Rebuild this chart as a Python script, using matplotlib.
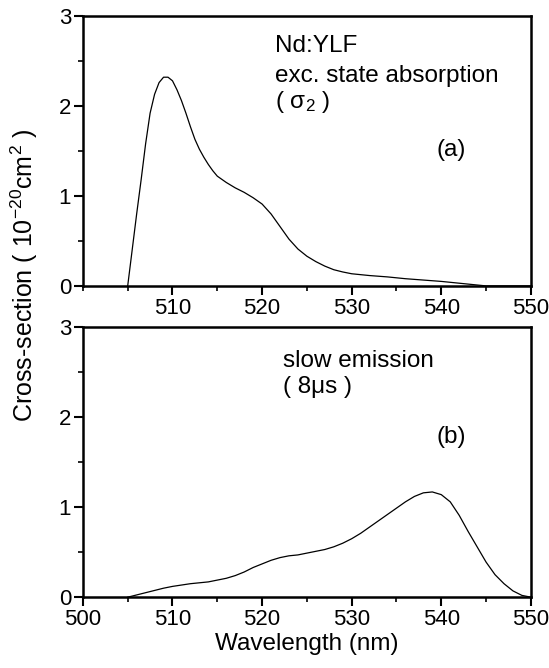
import matplotlib
matplotlib.use("Agg")
import matplotlib.pyplot as plt
from matplotlib.ticker import MultipleLocator

plt.rcParams['font.family'] = ['Liberation Sans', 'DejaVu Sans']
plt.rcParams['mathtext.fontset'] = 'custom'
plt.rcParams['mathtext.rm'] = 'Liberation Sans'
plt.rcParams['mathtext.it'] = 'Liberation Sans'

# (a) excited state absorption sigma_2
wl_a = [505.0, 505.5, 506.0, 506.5, 507.0, 507.5, 508.0, 508.5, 509.0, 509.5,
        510.0, 510.5, 511.0, 511.5, 512.0, 512.5, 513.0, 513.5, 514.0, 514.5,
        515.0, 516.0, 517.0, 518.0, 519.0, 520.0, 521.0, 522.0, 523.0, 524.0,
        525.0, 526.0, 527.0, 528.0, 529.0, 530.0, 532.0, 534.0, 536.0, 538.0,
        540.0, 542.0, 544.0, 545.0, 550.0]
sig_a = [0.0, 0.40, 0.80, 1.18, 1.58, 1.92, 2.13, 2.26, 2.32, 2.32,
         2.28, 2.18, 2.06, 1.92, 1.77, 1.63, 1.52, 1.43, 1.35, 1.28,
         1.22, 1.15, 1.09, 1.04, 0.98, 0.91, 0.80, 0.66, 0.52, 0.41,
         0.33, 0.27, 0.22, 0.18, 0.155, 0.135, 0.115, 0.10, 0.08, 0.065,
         0.05, 0.03, 0.01, 0.0, 0.0]

# (b) slow emission (8 us)
wl_b = [505, 507, 509, 510, 512, 514, 515, 516, 517, 518, 519, 520, 521, 522,
        523, 524, 525, 526, 527, 528, 529, 530, 531, 532, 533, 534, 535, 536,
        537, 538, 539, 540, 541, 542, 543, 544, 545, 546, 547, 548, 549, 550]
sig_b = [0.0, 0.05, 0.10, 0.12, 0.15, 0.17, 0.19, 0.21, 0.24, 0.28, 0.33, 0.37,
         0.41, 0.44, 0.46, 0.47, 0.49, 0.51, 0.53, 0.56, 0.60, 0.65, 0.71, 0.78,
         0.85, 0.92, 0.99, 1.06, 1.12, 1.16, 1.17, 1.14, 1.06, 0.91, 0.73, 0.56,
         0.39, 0.25, 0.15, 0.07, 0.02, 0.0]

xticks_a = [510, 520, 530, 540, 550]
xticks_b = [500, 510, 520, 530, 540, 550]
yticks = [0, 1, 2, 3]

fig = plt.figure(figsize=(5.49, 6.68), dpi=100)
ax1 = fig.add_axes([0.151, 0.572, 0.816, 0.404])
ax2 = fig.add_axes([0.151, 0.106, 0.816, 0.404])

for ax, x, y, xt in [(ax1, wl_a, sig_a, xticks_a), (ax2, wl_b, sig_b, xticks_b)]:
    ax.plot(x, y, color='black', lw=0.9)
    ax.set_xlim(500, 550)
    ax.set_ylim(0, 3)
    ax.set_xticks(xt)
    ax.set_yticks(yticks)
    ax.xaxis.set_minor_locator(MultipleLocator(5))
    ax.yaxis.set_minor_locator(MultipleLocator(0.5))
    ax.tick_params(which='major', direction='out', length=6.5, width=1.5,
                   labelsize=16, top=False, right=False, pad=2)
    ax.tick_params(which='minor', direction='out', length=3.5, width=1.2,
                   top=False, right=False)
    for s in ax.spines.values():
        s.set_linewidth(1.8)

fs = 17.5
ax1.text(0.429, 0.867, 'Nd:YLF', transform=ax1.transAxes, fontsize=fs, va='baseline')
ax1.text(0.429, 0.756, 'exc. state absorption', transform=ax1.transAxes, fontsize=fs, va='baseline')
ax1.text(0.429, 0.659, r'( $\mathrm{\sigma}_{2}$ )', transform=ax1.transAxes, fontsize=fs, va='baseline')
ax1.text(0.790, 0.504, '(a)', transform=ax1.transAxes, fontsize=fs, va='center')

ax2.text(0.446, 0.852, 'slow emission', transform=ax2.transAxes, fontsize=fs, va='baseline')
ax2.text(0.446, 0.756, '( 8\u03bcs )', transform=ax2.transAxes, fontsize=fs, va='baseline')
ax2.text(0.790, 0.593, '(b)', transform=ax2.transAxes, fontsize=fs, va='center')

ax2.set_xlabel('Wavelength (nm)', fontsize=17.5, labelpad=2)
fig.text(0.044, 0.588, r'Cross-section ( 10$^{-20}$cm$^{2}$ )', rotation=90,
         fontsize=18, ha='center', va='center')

fig.savefig('out.png', dpi=100)
